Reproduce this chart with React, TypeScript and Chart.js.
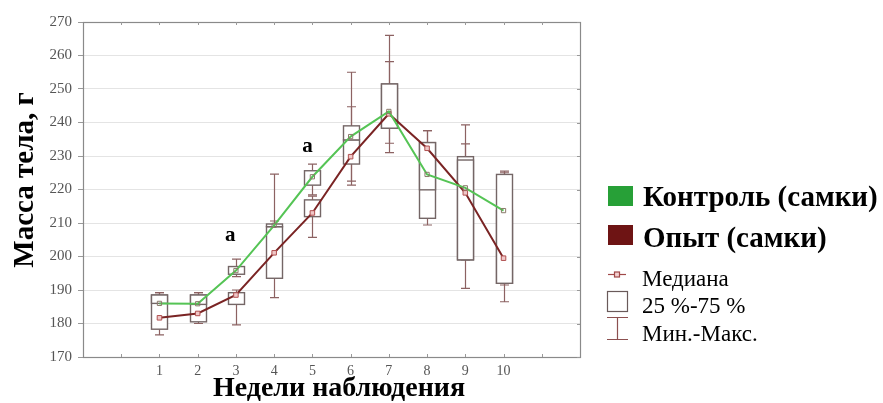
import { useEffect, useRef } from 'react';
import { Chart, registerables } from 'chart.js';

Chart.register(...registerables);

// ---- data ----
const weeks = [1, 2, 3, 4, 5, 6, 7, 8, 9, 10];
const xTickLabels = ['1', '2', '3', '4', '5', '6', '7', '8', '9', '10'];
const yTickValues = [170, 180, 190, 200, 210, 220, 230, 240, 250, 260, 270];

// Контроль (самки)
const controlMin = [186, 185.7, 194, 208, 218.4, 222.5, 233.8, 216.9, 199, 191.5];
const controlQ1 = [186, 185.7, 194.7, 208.9, 221.3, 234.8, 238.3, 219.9, 199, 192];
const controlMed = [186, 185.9, 195.8, 209.3, 223.8, 235.8, 243.3, 224.5, 220.5, 213.7];
const controlQ3 = [188.5, 188.5, 197, 209.7, 225.6, 239, 251.5, 234, 228.8, 224.5];
const controlMax = [189.2, 189.2, 199.2, 224.6, 227.6, 255, 258.2, 237.6, 239.3, 225.5];

// Опыт (самки)
const expMin = [176.6, 180, 179.6, 187.7, 205.7, 221.3, 231, 209.4, 190.5, 186.5];
const expQ1 = [178.3, 180.5, 185.7, 193.5, 211.9, 227.6, 238.3, 211.4, 199, 192];
const expMed = [181.7, 183, 188.5, 201.1, 213, 229.8, 242.6, 232.3, 219, 199.5];
const expQ3 = [188.5, 188.5, 189.2, 208.9, 216.9, 234.8, 251.5, 234, 229.8, 213.7];
const expMax = [189.2, 189.2, 190, 210.6, 218, 244.7, 266, 237.6, 233.6, 225];

// significance marks
const markWeeks = [2.85, 4.87];
const markValues = [206.3, 232.8];
const markText = ['a', 'a'];

const seriesNames = ['Контроль (самки)', 'Опыт (самки)'];
const legendNotes = ['Медиана', '25 %-75 %', 'Мин.-Макс.'];
const xTitle = 'Недели наблюдения';
const yTitle = 'Масса тела, г';

const SERIF = '"Liberation Serif", "Times New Roman", serif';

const boxPlugin = {
  id: 'boxes',
  beforeDatasetsDraw(chart: any) {
    const { ctx, scales } = chart;
    const x = scales.x;
    const y = scales.y;
    const groups = [
      [expMin, expQ1, expMed, expQ3, expMax],
      [controlMin, controlQ1, controlMed, controlQ3, controlMax],
    ];
    const half = 8;
    const cap = 4.5;
    ctx.save();
    ctx.lineWidth = 1.2;
    ctx.strokeStyle = '#8c6262';
    for (const g of groups) {
      for (let i = 0; i < weeks.length; i++) {
        const px = Math.round(x.getPixelForValue(weeks[i])) + 0.5;
        const yMin = y.getPixelForValue(g[0][i]);
        const yQ1 = y.getPixelForValue(g[1][i]);
        const yQ3 = y.getPixelForValue(g[3][i]);
        const yMax = y.getPixelForValue(g[4][i]);
        ctx.beginPath();
        ctx.moveTo(px, yMax);
        ctx.lineTo(px, yQ3);
        ctx.moveTo(px - cap, yMax);
        ctx.lineTo(px + cap, yMax);
        ctx.moveTo(px, yMin);
        ctx.lineTo(px, yQ1);
        ctx.moveTo(px - cap, yMin);
        ctx.lineTo(px + cap, yMin);
        ctx.stroke();
      }
    }
    ctx.strokeStyle = '#746666';
    ctx.lineWidth = 1.4;
    for (const g of groups) {
      for (let i = 0; i < weeks.length; i++) {
        const px = Math.round(x.getPixelForValue(weeks[i])) + 0.5;
        const yQ1 = y.getPixelForValue(g[1][i]);
        const yQ3 = y.getPixelForValue(g[3][i]);
        ctx.fillStyle = '#ffffff';
        ctx.fillRect(px - half, yQ3, half * 2, yQ1 - yQ3);
        ctx.strokeRect(px - half, yQ3, half * 2, yQ1 - yQ3);
      }
    }
    ctx.restore();
  },
  afterDraw(chart: any) {
    const { ctx, chartArea, scales } = chart;
    const x = scales.x;
    const y = scales.y;
    ctx.save();
    // frame
    ctx.strokeStyle = '#8a8a8a';
    ctx.lineWidth = 1.2;
    ctx.strokeRect(chartArea.left + 0.5, chartArea.top + 0.5, chartArea.right - chartArea.left, chartArea.bottom - chartArea.top);
    // inward ticks on bottom/top/right
    ctx.strokeStyle = '#999';
    ctx.lineWidth = 1;
    for (let v = 0; v <= 11; v++) {
      const px = Math.round(x.getPixelForValue(v)) + 0.5;
      ctx.beginPath();
      ctx.moveTo(px, chartArea.bottom);
      ctx.lineTo(px, chartArea.bottom - 3);
      ctx.moveTo(px, chartArea.top);
      ctx.lineTo(px, chartArea.top + 3);
      ctx.stroke();
    }
    for (const v of yTickValues) {
      const py = Math.round(y.getPixelForValue(v)) + 0.5;
      ctx.beginPath();
      ctx.moveTo(chartArea.right, py);
      ctx.lineTo(chartArea.right - 3, py);
      ctx.stroke();
    }
    // significance marks
    ctx.fillStyle = '#000';
    ctx.font = `bold 21px ${SERIF}`;
    ctx.textAlign = 'center';
    ctx.textBaseline = 'middle';
    for (let i = 0; i < markWeeks.length; i++) {
      ctx.fillText(markText[i], x.getPixelForValue(markWeeks[i]), y.getPixelForValue(markValues[i]));
    }
    // axis titles
    ctx.font = `bold 28px ${SERIF}`;
    ctx.textAlign = 'center';
    ctx.textBaseline = 'alphabetic';
    ctx.fillText(xTitle, 339, 396);
    ctx.save();
    ctx.font = `bold 29px ${SERIF}`;
    ctx.translate(33, 180);
    ctx.rotate(-Math.PI / 2);
    ctx.fillText(yTitle, 0, 0);
    ctx.restore();
    // legend
    ctx.fillStyle = '#27a037';
    ctx.fillRect(608, 186, 25, 20);
    ctx.fillStyle = '#6e1414';
    ctx.fillRect(608, 225, 25, 20);
    ctx.fillStyle = '#000';
    ctx.font = `bold 29px ${SERIF}`;
    ctx.textAlign = 'left';
    ctx.fillText(seriesNames[0], 643, 206);
    ctx.fillText(seriesNames[1], 643, 247);
    // median icon
    ctx.strokeStyle = '#a04848';
    ctx.lineWidth = 1.2;
    ctx.beginPath();
    ctx.moveTo(608, 274.5);
    ctx.lineTo(626, 274.5);
    ctx.stroke();
    ctx.fillStyle = '#f2d0d0';
    ctx.fillRect(614.5, 272, 5, 5);
    ctx.strokeRect(614.5, 272, 5, 5);
    // box icon
    ctx.strokeStyle = '#6a5a5a';
    ctx.strokeRect(607.5, 291.5, 20, 20);
    // whisker icon
    ctx.strokeStyle = '#8c5050';
    ctx.beginPath();
    ctx.moveTo(607, 317.5);
    ctx.lineTo(628, 317.5);
    ctx.moveTo(617.5, 317.5);
    ctx.lineTo(617.5, 339.5);
    ctx.moveTo(607, 339.5);
    ctx.lineTo(628, 339.5);
    ctx.stroke();
    ctx.fillStyle = '#000';
    ctx.font = `23px ${SERIF}`;
    ctx.fillText(legendNotes[0], 642, 286);
    ctx.fillText(legendNotes[1], 642, 313);
    ctx.fillText(legendNotes[2], 642, 341);
    ctx.restore();
  },
};

export default function App() {
  const ref = useRef<HTMLCanvasElement>(null);
  useEffect(() => {
    if (!ref.current) return;
    const chart = new Chart(ref.current, {
      type: 'line',
      data: {
        datasets: [
          {
            label: seriesNames[0],
            data: weeks.map((w, i) => ({ x: w, y: controlMed[i] })),
            borderColor: '#55c455',
            borderWidth: 2,
            pointStyle: 'rect',
            pointRadius: 3,
            pointBorderColor: '#8a7a6a',
            pointBackgroundColor: 'rgba(0,0,0,0)',
            pointBorderWidth: 1,
            tension: 0,
          },
          {
            label: seriesNames[1],
            data: weeks.map((w, i) => ({ x: w, y: expMed[i] })),
            borderColor: '#7a2424',
            borderWidth: 2,
            pointStyle: 'rect',
            pointRadius: 3.2,
            pointBorderColor: '#b05050',
            pointBackgroundColor: '#f0c8c8',
            pointBorderWidth: 1,
            tension: 0,
          },
        ],
      },
      options: {
        animation: false,
        responsive: false,
        devicePixelRatio: 1,
        layout: { padding: { top: 22, right: 303, bottom: 0, left: 0 } },
        plugins: { legend: { display: false }, tooltip: { enabled: false } },
        scales: {
          x: {
            type: 'linear',
            min: -1,
            max: 12,
            afterFit: (s: any) => { s.height = 46; },
            afterBuildTicks: (s: any) => {
              s.ticks = xTickLabels.map((_, i) => ({ value: weeks[i] }));
            },
            ticks: {
              callback: (v: any) => {
                const idx = weeks.indexOf(Number(v));
                return idx >= 0 ? xTickLabels[idx] : '';
              },
              font: { family: SERIF, size: 14 },
              color: '#555',
              padding: -2,
              maxRotation: 0,
              autoSkip: false,
            },
            grid: { display: false },
            border: { display: false },
          },
          y: {
            min: 170,
            max: 270,
            afterFit: (s: any) => { s.width = 83; },
            afterBuildTicks: (s: any) => {
              s.ticks = yTickValues.map((v) => ({ value: v }));
            },
            ticks: {
              font: { family: SERIF, size: 15 },
              color: '#555',
              padding: 6,
            },
            grid: { color: '#e4e4e4', tickColor: '#999', tickLength: 5, lineWidth: 1 },
            border: { display: false },
          },
        },
      },
      plugins: [boxPlugin],
    });
    return () => chart.destroy();
  }, []);
  return (
    <div style={{ position: 'fixed', left: 0, top: 0, width: 883, height: 403, background: '#fff' }}>
      <canvas ref={ref} width={883} height={403} style={{ width: 883, height: 403, display: 'block' }} />
    </div>
  );
}
